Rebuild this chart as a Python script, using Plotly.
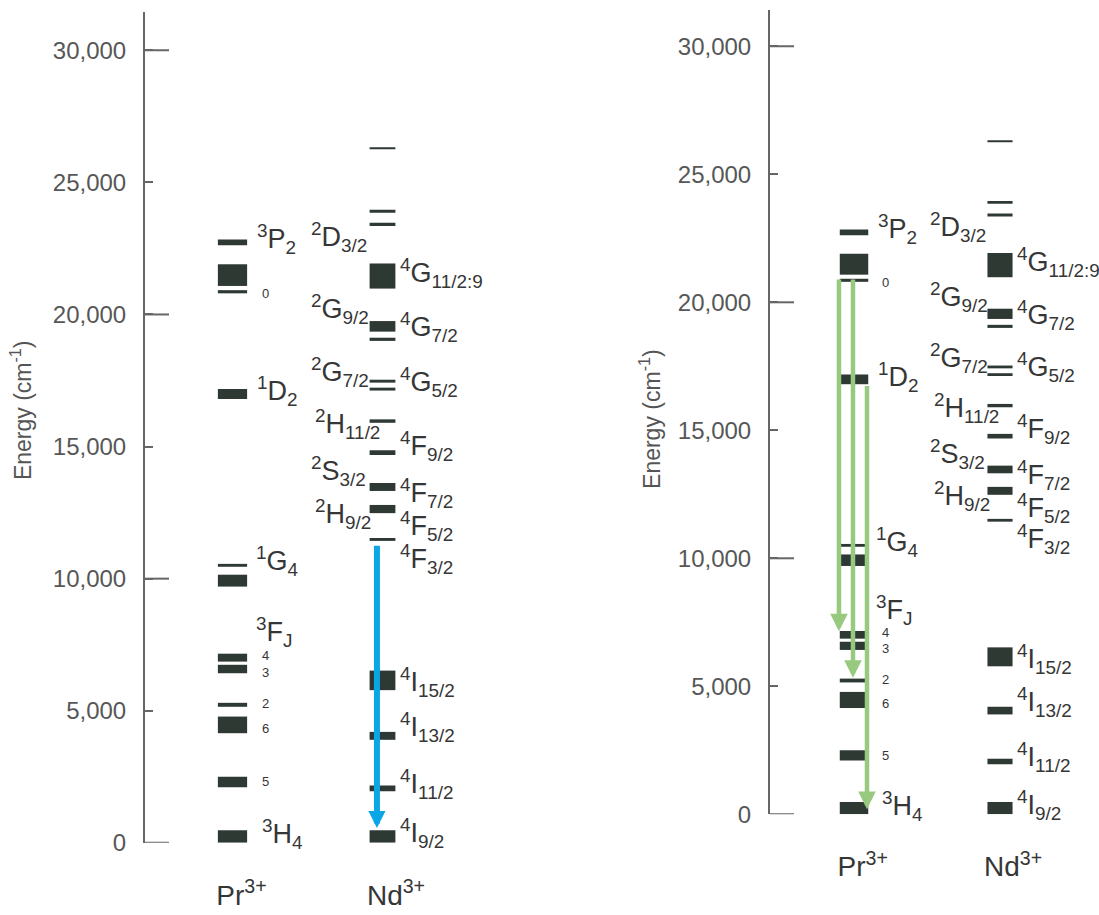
import plotly.graph_objects as go

W, H = 1099, 915

# ---------------- data (energies in cm^-1) ----------------
pr_low = [0, 2100, 4150, 5150, 6420, 6860, 9700, 10450, 16800, 20800, 21080, 22620]
pr_high = [480, 2500, 4780, 5300, 6740, 7160, 10150, 10560, 17180, 20920, 21900, 22840]

nd_low = [0, 1950, 3900, 5780, 11430, 12480, 13320, 14680, 15900, 17120, 17420,
          19000, 19350, 20980, 23350, 23850, 26250]
nd_high = [480, 2170, 4200, 6520, 11540, 12790, 13620, 14860, 16030, 17230, 17530,
           19120, 19750, 21930, 23470, 23960, 26330]

tick_vals = [0, 5000, 10000, 15000, 20000, 25000, 30000]
tick_text = ["0", "5,000", "10,000", "15,000", "20,000", "25,000", "30,000"]
major_ticks = [0, 10000, 20000, 30000]

ions = ["Pr<sup>3+</sup>", "Nd<sup>3+</sup>"]

# transitions: (start energy, end energy)
nd_transition = [(11300, 560)]
pr_transitions = [(20950, 7150), (20950, 5330), (16790, 200)]

# labels: (text, column, energy at label centre, kind)
labels = [
    ("<sup>3</sup>P<sub>2</sub>", "pr", 22870, "big"),
    ("0", "prs", 20780, "small"),
    ("<sup>1</sup>D<sub>2</sub>", "pr", 17090, "big"),
    ("<sup>1</sup>G<sub>4</sub>", "pr2", 10650, "big"),
    ("<sup>3</sup>F<sub>J</sub>", "pr2", 7990, "big"),
    ("4", "prs", 7090, "small"),
    ("3", "prs", 6460, "small"),
    ("2", "prs", 5260, "small"),
    ("6", "prs", 4340, "small"),
    ("5", "prs", 2310, "small"),
    ("<sup>3</sup>H<sub>4</sub>", "prs", 330, "big"),
    ("<sup>2</sup>D<sub>3/2</sub>", "mid", 22950, "big"),
    ("<sup>2</sup>G<sub>9/2</sub>", "mid", 20190, "big"),
    ("<sup>2</sup>G<sub>7/2</sub>", "mid", 17840, "big"),
    ("<sup>2</sup>H<sub>11/2</sub>", "mid2", 15860, "big"),
    ("<sup>2</sup>S<sub>3/2</sub>", "mid", 14070, "big"),
    ("<sup>2</sup>H<sub>9/2</sub>", "mid2", 12430, "big"),
    ("<sup>4</sup>G<sub>11/2:9</sub>", "nd", 21570, "big"),
    ("<sup>4</sup>G<sub>7/2</sub>", "nd", 19510, "big"),
    ("<sup>4</sup>G<sub>5/2</sub>", "nd", 17460, "big"),
    ("<sup>4</sup>F<sub>9/2</sub>", "nd", 15040, "big"),
    ("<sup>4</sup>F<sub>7/2</sub>", "nd", 13250, "big"),
    ("<sup>4</sup>F<sub>5/2</sub>", "nd", 11980, "big"),
    ("<sup>4</sup>F<sub>3/2</sub>", "nd", 10750, "big"),
    ("<sup>4</sup>I<sub>15/2</sub>", "nd", 6080, "big"),
    ("<sup>4</sup>I<sub>13/2</sub>", "nd", 4370, "big"),
    ("<sup>4</sup>I<sub>11/2</sub>", "nd", 2240, "big"),
    ("<sup>4</sup>I<sub>9/2</sub>", "nd", 370, "big"),
]

# ---------------- styles / layout ----------------
BAR = "#2e3934"
TXT = "#363636"
AXC = "#666666"
FONT = "Liberation Sans, Arial, sans-serif"
BLUE = "#0ba6e6"
GREEN = "#97c97f"

col_x = {"pr": 0.15, "pr2": 0.14, "prs": 0.18, "mid": 1 - 0.49, "mid2": 1 - 0.465, "nd": 1.1}
kind_size = {"big": 27, "small": 13}

panels = [
    dict(xa="x", ya="y", axis_px=145, right_px=600, pr_px=232.5, colw=150,
         zero_px=855, top_px=12, k=804 / 30000, title=(21, 416)),
    dict(xa="x2", ya="y2", axis_px=770, right_px=1099, pr_px=854, colw=146,
         zero_px=826, top_px=10, k=779 / 30000, title=(650, 425)),
]

fig = go.Figure()
layout = dict(
    width=W, height=H, margin=dict(l=0, r=0, t=0, b=0),
    paper_bgcolor="white", plot_bgcolor="white",
    showlegend=False, barmode="overlay",
    font=dict(family=FONT, color=TXT),
)
annotations = []
shapes = []

for i, p in enumerate(panels):
    sfx = "" if i == 0 else "2"
    xa, ya = p["xa"], p["ya"]
    xr = [(p["axis_px"] - p["pr_px"]) / p["colw"], (p["right_px"] - p["pr_px"]) / p["colw"]]
    ymax = (p["zero_px"] - p["top_px"]) / p["k"]
    layout["xaxis" + sfx] = dict(
        domain=[p["axis_px"] / W, p["right_px"] / W], range=xr, anchor=ya,
        showgrid=False, zeroline=False, showline=False, ticks="",
        tickvals=[0.06, 1.09], ticktext=ions,
        tickfont=dict(size=28, color=TXT, family=FONT), ticklabelstandoff=33,
    )
    layout["yaxis" + sfx] = dict(
        domain=[(H - p["zero_px"]) / H, (H - p["top_px"]) / H], range=[0, ymax], anchor=xa,
        showgrid=False, zeroline=False, showline=True, linecolor=AXC, linewidth=2,
        ticks="inside", ticklen=8, tickwidth=2, tickcolor=AXC,
        tickvals=tick_vals, ticktext=tick_text,
        tickfont=dict(size=24, color="#575757", family=FONT), ticklabelstandoff=12,
    )
    # long major ticks
    span = p["right_px"] - p["axis_px"]
    for v in major_ticks:
        shapes.append(dict(type="line", xref=xa + " domain", yref=ya,
                           x0=0, x1=24 / span, y0=v, y1=v,
                           line=dict(color=AXC, width=2)))
    # level bars
    fig.add_trace(go.Bar(x=[0] * len(pr_low), base=pr_low,
                         y=[h - l for l, h in zip(pr_low, pr_high)],
                         width=0.195, marker=dict(color=BAR, line=dict(width=0)),
                         xaxis=xa, yaxis=ya, hoverinfo="skip"))
    fig.add_trace(go.Bar(x=[1] * len(nd_low), base=nd_low,
                         y=[h - l for l, h in zip(nd_low, nd_high)],
                         width=0.172, marker=dict(color=BAR, line=dict(width=0)),
                         xaxis=xa, yaxis=ya, hoverinfo="skip"))
    # level labels
    for text, col, e, kind in labels:
        annotations.append(dict(
            x=col_x[col], y=e, xref=xa, yref=ya, text=text, showarrow=False,
            xanchor="left", yanchor="middle",
            font=dict(size=kind_size[kind], color=TXT, family=FONT)))
    # axis title
    tx, ty = p["title"]
    annotations.append(dict(
        x=tx / W, y=(H - ty) / H, xref="paper", yref="paper",
        text="Energy (cm<sup>-1</sup>)", textangle=-90, showarrow=False,
        xanchor="center", yanchor="middle",
        font=dict(size=23, color="#555555", family=FONT)))

# arrows
for (e0, e1) in nd_transition:
    annotations.append(dict(
        x=0.963, y=e1, ax=0.963, ay=e0, xref="x", yref="y", axref="x", ayref="y",
        text="", showarrow=True, arrowhead=2, arrowsize=0.57, arrowwidth=6,
        arrowcolor=BLUE, standoff=0))
green_x = [-0.103, -0.007, 0.089]
for gx, (e0, e1) in zip(green_x, pr_transitions):
    annotations.append(dict(
        x=gx, y=e1, ax=gx, ay=e0, xref="x2", yref="y2", axref="x2", ayref="y2",
        text="", showarrow=True, arrowhead=2, arrowsize=0.78, arrowwidth=4.5,
        arrowcolor=GREEN, standoff=0))

layout["annotations"] = annotations
layout["shapes"] = shapes
fig.update_layout(**layout)

fig.write_html("out.html")
